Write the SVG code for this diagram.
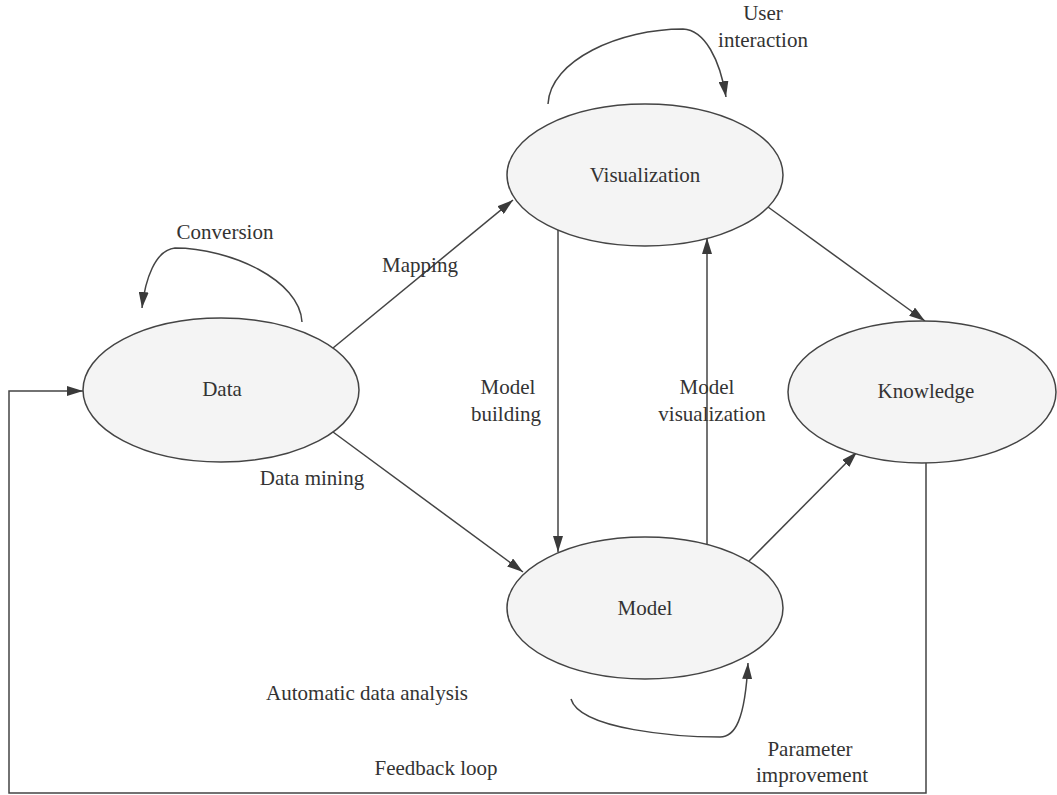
<svg xmlns="http://www.w3.org/2000/svg" width="1057" height="795" viewBox="0 0 1057 795">
<style>
.node{fill:#f4f4f4;stroke:#444;stroke-width:1.5}
.edge{fill:none;stroke:#444;stroke-width:1.5}
text{font-family:"Liberation Serif","Times New Roman",serif;font-size:21px;fill:#333}
.c{text-anchor:middle}
</style>
<defs>
<marker id="arr" viewBox="0 0 16 10" refX="16" refY="5" markerWidth="16" markerHeight="10" markerUnits="userSpaceOnUse" orient="auto">
<path d="M0,0 L16,5 L0,10 Z" fill="#3a3a3a"/>
</marker>
</defs>
<rect width="1057" height="795" fill="#fff"/>
<g id="connectors">
<line class="edge" x1="333" y1="348" x2="513" y2="200" marker-end="url(#arr)"/>
<line class="edge" x1="333" y1="432" x2="523" y2="572" marker-end="url(#arr)"/>
<line class="edge" x1="558" y1="230" x2="558" y2="552" marker-end="url(#arr)"/>
<line class="edge" x1="707" y1="545" x2="707" y2="238" marker-end="url(#arr)"/>
<line class="edge" x1="768" y1="207" x2="925" y2="321" marker-end="url(#arr)"/>
<line class="edge" x1="749" y1="561" x2="857" y2="452" marker-end="url(#arr)"/>
<path class="edge" d="M926,463 V793 H9 V391 H83" marker-end="url(#arr)"/>
<path class="edge" d="M302,322 C300,280 230,248 175,248 C155,250 145,280 142,308" marker-end="url(#arr)"/>
<path class="edge" d="M548,104 C550,60 620,29 683,29 C705,30 720,60 726,97" marker-end="url(#arr)"/>
<path class="edge" d="M571,699 C580,730 680,737 720,737 C735,737 745,720 748,663" marker-end="url(#arr)"/>
</g>
<g id="visualization"><ellipse class="node" cx="645" cy="175" rx="138" ry="71"/><text class="c" x="645" y="182">Visualization</text></g>
<g id="data"><ellipse class="node" cx="221" cy="390" rx="138" ry="72"/><text class="c" x="222" y="396">Data</text></g>
<g id="model"><ellipse class="node" cx="645" cy="608" rx="138" ry="71"/><text class="c" x="645" y="615">Model</text></g>
<g id="knowledge"><ellipse class="node" cx="922" cy="392" rx="134" ry="71"/><text class="c" x="926" y="398">Knowledge</text></g>
<g id="labels">
<text class="c" x="763" y="20">User</text>
<text class="c" x="763" y="47">interaction</text>
<text class="c" x="225" y="239">Conversion</text>
<text class="c" x="420" y="272">Mapping</text>
<text class="c" x="508" y="394">Model</text>
<text class="c" x="506" y="421">building</text>
<text class="c" x="707" y="394">Model</text>
<text class="c" x="712" y="421">visualization</text>
<text class="c" x="312" y="485">Data mining</text>
<text class="c" x="367" y="700">Automatic data analysis</text>
<text class="c" x="810" y="756">Parameter</text>
<text class="c" x="812" y="782">improvement</text>
<text class="c" x="436" y="775">Feedback loop</text>
</g>
</svg>
